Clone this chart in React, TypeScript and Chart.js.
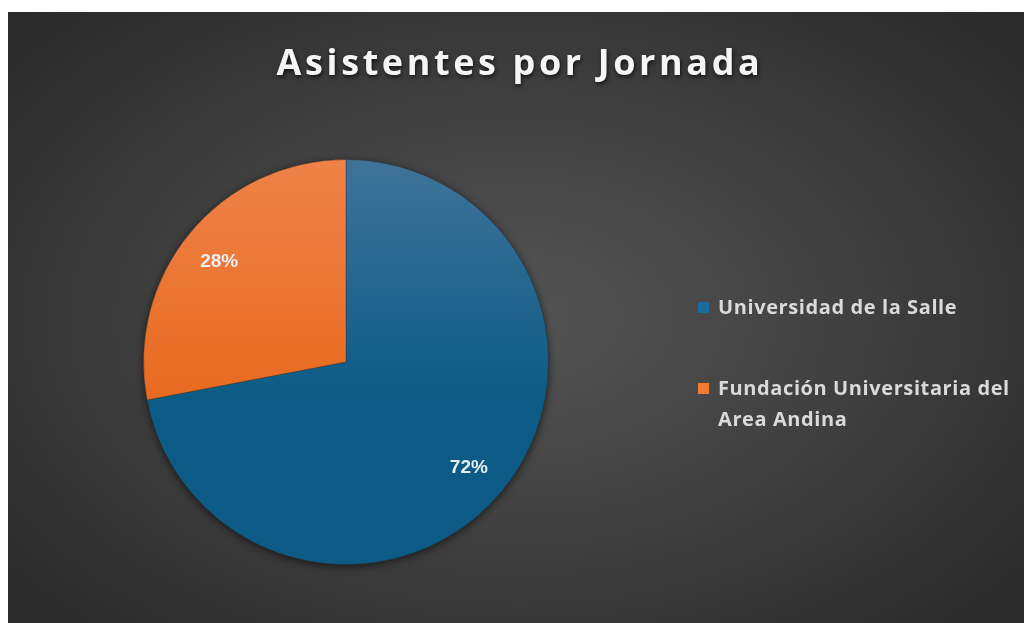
import React, { useEffect, useRef } from "react";
import { Chart, registerables } from "chart.js";

Chart.register(...registerables);

const TITLE = "Asistentes por Jornada";
const CATEGORIES = ["Universidad de la Salle", "Fundación Universitaria del Area Andina"];
const LEGEND_LINES = [["Universidad de la Salle"], ["Fundación Universitaria del", "Area Andina"]];
const VALUES = [72, 28];
const COLORS_TOP = ["#3f7399", "#ee8248"];
const COLORS_BOTTOM = ["#0b5b86", "#e96a1f"];
const SWATCH = ["#1b6aa0", "#f47a32"];

export default function App() {
  const ref = useRef<HTMLCanvasElement | null>(null);

  useEffect(() => {
    if (!ref.current) return;

    const decor = {
      id: "decor",
      beforeDatasetsDraw(chart: any) {
        const ctx = chart.ctx;
        const meta = chart.getDatasetMeta(0);
        const arc = meta.data[0] as any;
        if (!arc) return;
        ctx.save();
        ctx.beginPath();
        ctx.arc(arc.x, arc.y, arc.outerRadius, 0, Math.PI * 2);
        ctx.shadowColor = "rgba(0,0,0,0.6)";
        ctx.shadowBlur = 8;
        ctx.shadowOffsetY = 2;
        ctx.fillStyle = "#333";
        ctx.fill();
        ctx.restore();
      },
      afterDatasetsDraw(chart: any) {
        const ctx = chart.ctx;
        const meta = chart.getDatasetMeta(0);
        const total = VALUES.reduce((a, b) => a + b, 0);
        ctx.save();
        ctx.font = "bold 19px 'Liberation Sans', Arial, sans-serif";
        ctx.fillStyle = "#e9eef2";
        ctx.textAlign = "center";
        ctx.textBaseline = "middle";
        meta.data.forEach((a: any, i: number) => {
          const mid = (a.startAngle + a.endAngle) / 2;
          const r = a.outerRadius * 0.8;
          const x = a.x + Math.cos(mid) * r;
          const y = a.y + Math.sin(mid) * r;
          ctx.fillText(Math.round((VALUES[i] / total) * 100) + "%", x - 2, y + 3);
        });
        ctx.restore();
      },
      afterDraw(chart: any) {
        const ctx = chart.ctx;
        ctx.save();
        ctx.font = "bold 36px 'Open Sans', sans-serif";
        (ctx as any).letterSpacing = "3.6px";
        ctx.textAlign = "center";
        ctx.textBaseline = "alphabetic";
        ctx.shadowColor = "rgba(0,0,0,0.7)";
        ctx.shadowBlur = 4;
        ctx.shadowOffsetX = 1;
        ctx.shadowOffsetY = 2;
        ctx.fillStyle = "#f5f5f5";
        ctx.fillText(TITLE, 512, 63);
        ctx.restore();

        ctx.save();
        ctx.font = "bold 20px 'Open Sans', sans-serif";
        (ctx as any).letterSpacing = "0.6px";
        ctx.textBaseline = "middle";
        ctx.textAlign = "left";
        const startY = [296, 377];
        LEGEND_LINES.forEach((lines, i) => {
          ctx.fillStyle = SWATCH[i];
          ctx.fillRect(690, startY[i] - 6, 11, 11);
          ctx.fillStyle = "#dadada";
          lines.forEach((ln, j) => {
            ctx.fillText(ln, 710, startY[i] + j * 31);
          });
        });
        ctx.restore();
      },
    };

    const chart = new Chart(ref.current, {
      type: "pie",
      data: {
        labels: CATEGORIES,
        datasets: [
          {
            data: VALUES,
            backgroundColor: (c: any) => {
              const ch = c.chart;
              const area = ch.chartArea;
              if (!area) return SWATCH[c.dataIndex];
              const g = ch.ctx.createLinearGradient(0, area.top, 0, area.bottom);
              g.addColorStop(0, COLORS_TOP[c.dataIndex]);
              g.addColorStop(0.6, COLORS_BOTTOM[c.dataIndex]);
              g.addColorStop(1, COLORS_BOTTOM[c.dataIndex]);
              return g;
            },
            borderColor: "rgba(40,40,40,0.35)",
            borderWidth: 1,
          },
        ],
      },
      options: {
        animation: false,
        responsive: true,
        maintainAspectRatio: false,
        layout: { padding: { top: 147, bottom: 58, left: 135, right: 475 } },
        plugins: {
          legend: { display: false },
          tooltip: { enabled: false },
          title: { display: false },
        },
      },
      plugins: [decor],
    });
    return () => chart.destroy();
  }, []);

  return (
    <div
      style={{
        position: "absolute",
        left: 8,
        top: 12,
        width: 1016,
        height: 611,
        background:
          "radial-gradient(ellipse 75% 80% at 50% 50%, #545454 0%, #424242 40%, #2e2e2e 80%, #262626 100%)",
      }}
    >
      <canvas ref={ref} />
    </div>
  );
}
